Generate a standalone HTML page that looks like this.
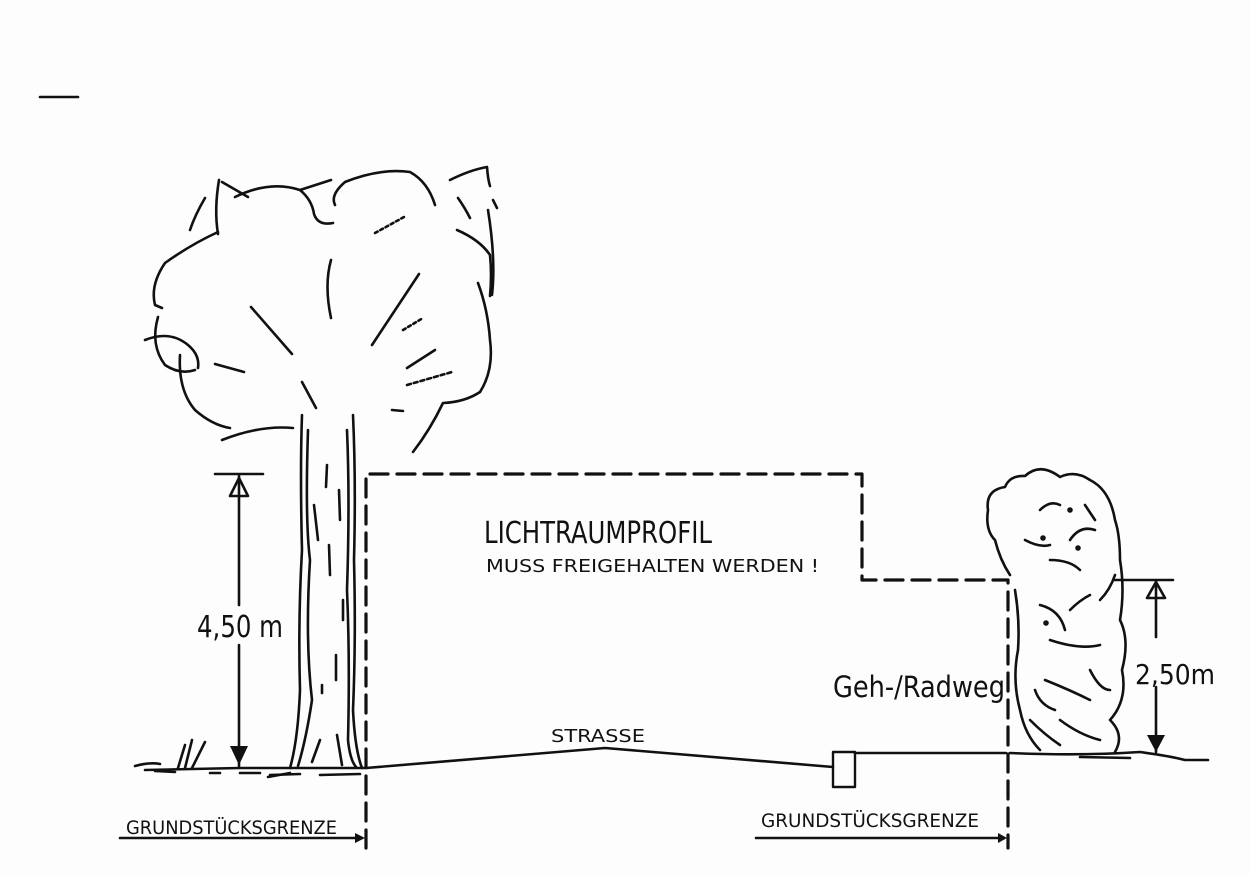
<!DOCTYPE html>
<html><head><meta charset="utf-8"><style>
html,body{margin:0;padding:0;background:#fff;}
svg{display:block}
text{font-family:"DejaVu Sans Condensed","Liberation Sans",sans-serif;fill:#111}
</style></head><body>
<svg width="1250" height="875" viewBox="0 0 1250 875" xmlns="http://www.w3.org/2000/svg">
<rect width="1250" height="875" fill="#fdfdfd"/>
<g stroke="#111" fill="none" stroke-width="2.6" stroke-linecap="round" stroke-linejoin="round">
<line x1="40" y1="97" x2="78" y2="97"/>
<!-- tree canopy -->
<path d="M205,198 Q195,215 190,230"/>
<path d="M219,180 Q214,210 218,234"/>
<path d="M222,182 L248,197"/>
<path d="M235,197 Q270,180 300,190 Q312,200 314,214 Q318,226 333,223"/>
<path d="M300,190 L331,180"/>
<path d="M335,205 Q330,195 345,182 Q380,168 410,172 Q428,182 435,205"/>
<path d="M450,180 Q470,170 487,167 Q488,180 490,186"/>
<path d="M493,200 L497,208"/>
<path d="M458,198 Q465,208 470,218"/>
<path d="M457,230 Q480,240 490,255 Q492,275 490,296"/>
<path d="M488,210 Q496,260 492,295"/>
<path d="M478,283 Q488,310 490,340 Q494,370 480,392 Q465,402 443,403 Q430,430 413,452"/>
<path d="M218,232 Q190,245 165,263 Q150,285 155,305 L162,308"/>
<path d="M158,317 Q150,345 165,365 Q180,375 195,370"/>
<path d="M145,340 Q170,330 188,345 Q200,355 198,368"/>
<path d="M180,355 Q178,390 195,410 Q212,425 230,428"/>
<path d="M222,440 Q260,425 293,428"/>
<path d="M251,307 L292,354"/>
<path d="M215,364 L244,372"/>
<path d="M302,382 L316,408"/>
<path d="M331,260 Q324,285 331,318"/>
<path d="M419,274 L372,345"/>
<path d="M435,350 L407,368"/>
<path d="M375,233 L404,217" stroke-dasharray="3 3"/>
<path d="M403,330 L423,318" stroke-dasharray="3 3"/>
<path d="M407,385 L452,372" stroke-dasharray="4 3"/>
<path d="M392,410 L403,411"/>
<!-- trunk -->
<path d="M302,415 Q300,470 302,550 Q298,620 300,690 Q298,740 290,768"/>
<path d="M308,430 Q305,520 310,560 Q305,640 312,700 Q306,740 298,766"/>
<path d="M353,415 Q356,480 354,560 Q356,640 353,710 Q355,750 362,768"/>
<path d="M347,430 Q350,500 347,590 Q350,660 348,740 Q350,760 356,767"/>
<path d="M327,465 L326,487"/><path d="M339,490 L340,520"/><path d="M329,545 L330,575"/>
<path d="M336,655 L336,680"/><path d="M322,685 L322,693"/><path d="M314,505 L318,540"/>
<path d="M343,600 L343,620"/><path d="M320,740 L312,762"/><path d="M337,735 L342,765"/>
<!-- left ground -->
<path d="M135,766 Q150,762 160,764"/>
<path d="M145,770 L240,768 Q270,768 290,768 L366,768"/>
<path d="M155,771 L175,772"/><path d="M210,773 L220,773"/><path d="M240,773 L260,773"/>
<path d="M270,775 L300,774"/><path d="M320,775 L360,774"/><path d="M268,777 L290,773"/>
<path d="M178,768 L185,745"/><path d="M185,768 L192,740"/><path d="M192,768 L205,742"/>
<!-- left dim -->
<line x1="215" y1="474" x2="263" y2="474"/>
<line x1="239" y1="476" x2="239" y2="605"/>
<line x1="239" y1="645" x2="239" y2="766"/>
<path d="M230,496 L239,478 L248,496 Z"/>
<!-- dashed profile -->
<g stroke-width="3.2" stroke-dasharray="18 9">
<path d="M366,848 L366,474 L862,474 L862,580 L1008,580 L1008,848"/>
</g>
<!-- road -->
<path d="M366,768 L605,748 L833,767"/>
<rect x="833" y="752" width="22" height="35" stroke-width="2.4"/>
<line x1="855" y1="753" x2="1006" y2="753"/>
<!-- right ground -->
<path d="M1010,753 Q1080,756 1140,752 Q1170,756 1185,760 L1208,760"/>
<path d="M1080,757 L1130,758"/>
<!-- bush -->
<path d="M1010,575 Q1000,560 995,540 Q985,530 988,510 Q985,490 1005,487 Q1010,475 1025,476 Q1040,462 1060,477 Q1075,470 1090,480 Q1110,490 1115,520 Q1120,535 1120,560 Q1125,590 1120,620 Q1130,640 1122,670 Q1128,700 1110,720 Q1125,735 1115,752"/>
<path d="M1015,590 Q1020,620 1018,650 Q1012,680 1020,710 Q1025,735 1040,750"/>
<path d="M1025,540 Q1040,548 1050,545"/><path d="M1050,560 Q1070,560 1080,570"/>
<path d="M1070,540 Q1080,525 1095,530"/><path d="M1040,605 Q1060,610 1065,630"/>
<path d="M1050,640 Q1080,650 1100,645"/><path d="M1045,680 Q1070,690 1090,700"/>
<path d="M1100,600 Q1110,590 1115,575"/><path d="M1070,610 Q1080,600 1090,595"/>
<path d="M1060,720 Q1080,735 1100,740"/><path d="M1090,670 Q1100,690 1110,690"/>
<path d="M1040,510 Q1050,500 1060,505"/><path d="M1085,505 L1095,520"/>
<path d="M1030,720 Q1045,735 1060,745"/><path d="M1035,690 Q1040,705 1055,710"/>
<circle cx="1043" cy="538" r="1.5"/><circle cx="1078" cy="548" r="1.5"/><circle cx="1046" cy="623" r="1.5"/><circle cx="1070" cy="510" r="1.5"/>
<!-- right dim -->
<line x1="1115" y1="580" x2="1173" y2="580"/>
<line x1="1156" y1="582" x2="1156" y2="637"/>
<line x1="1156" y1="687" x2="1156" y2="752"/>
<path d="M1147,598 L1156,582 L1165,598 Z"/>
<!-- property arrows -->
<line x1="120" y1="838" x2="356" y2="838"/>
<line x1="756" y1="838" x2="1000" y2="838"/>
</g>
<g fill="#111">
<path d="M230,746 L248,746 L239,765 Z"/>
<path d="M1147,735 L1165,735 L1156,752 Z"/>
<path d="M355,833 L365,838 L355,843 Z"/>
<path d="M998,833 L1007,838 L998,843 Z"/>
</g>
<g lengthAdjust="spacingAndGlyphs">
<text x="197" y="637" font-size="30" textLength="86" lengthAdjust="spacingAndGlyphs">4,50 m</text>
<text x="1135" y="684" font-size="28" textLength="80" lengthAdjust="spacingAndGlyphs">2,50m</text>
<text x="484" y="543" font-size="30" textLength="228" lengthAdjust="spacingAndGlyphs">LICHTRAUMPROFIL</text>
<text x="486" y="572" font-size="18" textLength="333" lengthAdjust="spacingAndGlyphs">MUSS  FREIGEHALTEN  WERDEN !</text>
<text x="551" y="742" font-size="18" textLength="94" lengthAdjust="spacingAndGlyphs">STRASSE</text>
<text x="833" y="697" font-size="29" textLength="172" lengthAdjust="spacingAndGlyphs">Geh-/Radweg</text>
<text x="126" y="834" font-size="19" textLength="211" lengthAdjust="spacingAndGlyphs">GRUNDSTÜCKSGRENZE</text>
<text x="761" y="827" font-size="19" textLength="218" lengthAdjust="spacingAndGlyphs">GRUNDSTÜCKSGRENZE</text>
</g>
</svg>
</body></html>
